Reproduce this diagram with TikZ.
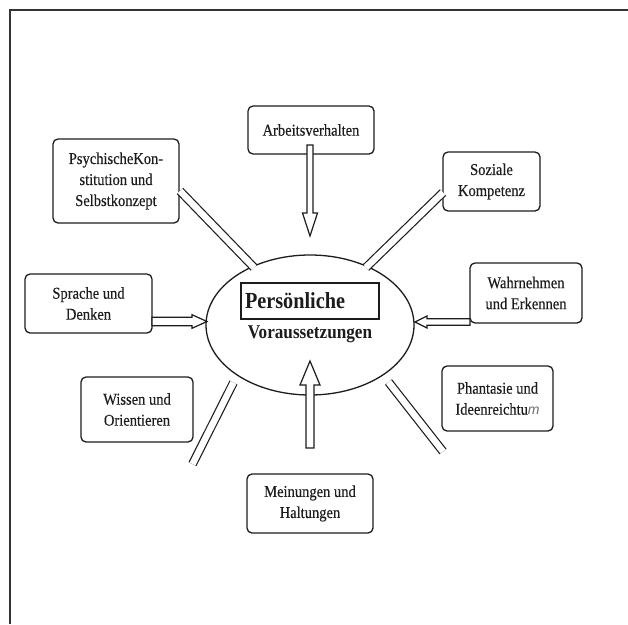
\documentclass[tikz,border=0pt]{standalone}
\usepackage{fontspec}
\setmainfont{Liberation Serif}[FakeStretch=0.88, UprightFeatures={FakeBold=0.35}]
\setsansfont{Liberation Sans}
\usetikzlibrary{calc,shapes.geometric}
\definecolor{ink}{HTML}{1C1C1C}

% hollow block arrow: #1 tail, #2 tip, #3 shaft half width, #4 head half width, #5 head length
\newcommand\hollowarrow[5]{%
  \coordinate (hb) at ($(#2)!#5!(#1)$);
  \draw[arrowline] ($(#1)!#3!90:(#2)$) -- ($(hb)!#3!-90:(#1)$) -- ($(hb)!#4!-90:(#1)$)
    -- (#2) -- ($(hb)!#4!90:(#1)$) -- ($(hb)!#3!90:(#1)$) -- ($(#1)!#3!-90:(#2)$) -- cycle;}

\begin{document}
\begin{tikzpicture}[x=1pt,y=-1pt,
  box/.style={draw=ink, line width=1.3pt, rounded corners=5pt, align=center,
    inner sep=0pt, text=ink, font=\fontsize{16.5}{21}\selectfont},
  arrowline/.style={draw=ink, line width=1.2pt, fill=white, line join=miter},
  twinline/.style={draw=ink, line width=1.2pt, double=white, double distance=6.5pt},
  frameline/.style={draw=ink!90, line width=1.5pt}]
\useasboundingbox (0,0) rectangle (628,624);

% page frame
\draw[frameline] (628,10) -- (10,10) -- (10,624);

% centre
\node[ellipse, draw=ink, line width=1.3pt, minimum width=208pt, minimum height=140pt,
  inner sep=0pt] (ell) at (310,325) {};
\node[draw=ink, line width=1.3pt, text width=130pt, align=left, inner sep=4pt,
  minimum height=36pt, text=ink, font=\bfseries\fontsize{23}{26}\selectfont]
  (pers) at (310,301) {Persönliche};
\node[text=ink, font=\bfseries\fontsize{19.5}{22}\selectfont, inner sep=0pt]
  (vor) at (310,334) {Voraussetzungen};

% surrounding boxes
\node[box, minimum width=126pt, minimum height=48pt] (arb) at (311,130) {Arbeitsverhalten};
\node[box, minimum width=126pt, minimum height=84pt] (psy) at (116,181)
  {PsychischeKon-\\stitution und\\Selbstkonzept};
\node[box, minimum width=97pt, minimum height=59pt] (soz) at (491.5,181.5)
  {Soziale\\Kompetenz};
\node[box, minimum width=112pt, minimum height=60pt] (wah) at (526,293)
  {Wahrnehmen\\und Erkennen};
\node[box, minimum width=111pt, minimum height=65pt] (pha) at (497.5,398.5)
  {Phantasie und\\Ideenreichtu{\color{ink!65}\sffamily\itshape\fontsize{14}{15}\selectfont m}};
\node[box, minimum width=126pt, minimum height=59pt] (mei) at (310,503.5)
  {Meinungen und\\Haltungen};
\node[box, minimum width=127pt, minimum height=59pt] (spr) at (88.5,303.5)
  {Sprache und\\Denken};
\node[box, minimum width=112pt, minimum height=65pt] (wis) at (137,409.5)
  {Wissen und\\Orientieren};

% connector end points
\coordinate (arbT) at (310,145);
\coordinate (arbH) at (310,236);
\coordinate (sprT) at (152,321.5);
\coordinate (sprH) at (207,321.5);
\coordinate (wahT) at (470,322);
\coordinate (wahH) at (415,322);
\coordinate (meiT) at (310,448);
\coordinate (meiH) at (310,361);
\coordinate (psyA) at (180,191);
\coordinate (psyB) at (254,267.5);
\coordinate (sozA) at (443,192.5);
\coordinate (sozB) at (366,267.5);
\coordinate (wisA) at (233.5,382.5);
\coordinate (wisB) at (192.5,464);
\coordinate (phaA) at (388.5,382);
\coordinate (phaB) at (443,451.5);

% block arrows towards the centre
\hollowarrow{arbT}{arbH}{3pt}{7.5pt}{23pt}
\hollowarrow{sprT}{sprH}{4.2pt}{6.8pt}{15pt}
\hollowarrow{wahT}{wahH}{3.3pt}{6pt}{12pt}
\hollowarrow{meiT}{meiH}{4pt}{10pt}{24pt}

% twin-line links
\draw[twinline] (psyA) -- (psyB);
\draw[twinline] (sozA) -- (sozB);
\draw[twinline] (wisA) -- (wisB);
\draw[twinline] (phaA) -- (phaB);
\end{tikzpicture}
\end{document}
